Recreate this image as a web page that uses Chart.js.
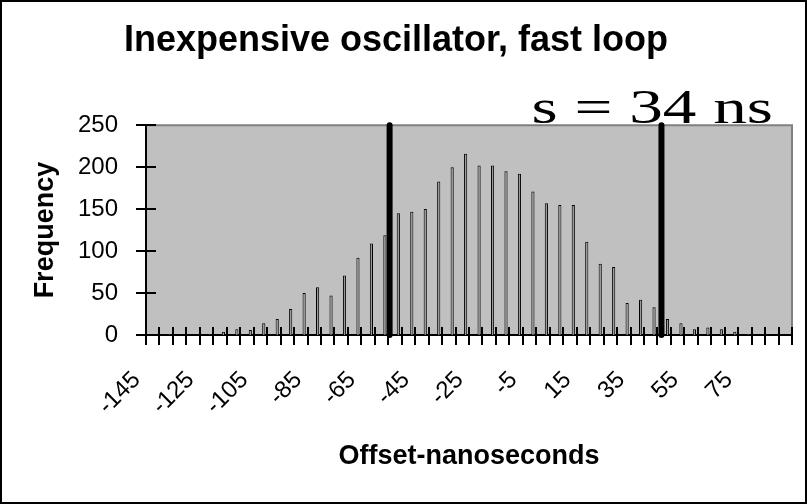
<!DOCTYPE html>
<html>
<head>
<meta charset="utf-8">
<script src="https://cdn.jsdelivr.net/npm/chart.js@4.4.1/dist/chart.umd.min.js"></script>
<style>
  html, body { margin: 0; padding: 0; background: #fff; }
  #wrap { width: 807px; height: 504px; }
</style>
</head>
<body>
<div id="wrap"><canvas id="histo" width="807" height="504"></canvas></div>
<script>
// Bins de 5 ns (limite de cada clase)
const offsets = [
  -145, -140, -135, -130, -125, -120, -115, -110, -105, -100, -95, -90,
  -85, -80, -75, -70, -65, -60, -55, -50, -45, -40, -35, -30,
  -25, -20, -15, -10, -5, 0, 5, 10, 15, 20, 25, 30,
  35, 40, 45, 50, 55, 60, 65, 70, 75, 80, 85, 90
];
const frequency = [
  0, 1, 0, 0, 1, 4, 7, 6, 14, 19, 31, 50,
  57, 47, 71, 92, 109, 119, 145, 147, 150, 183, 200, 216,
  202, 202, 195, 192, 171, 157, 155, 155, 111, 85, 81, 38,
  42, 33, 19, 14, 7, 9, 7, 4, 1, 0, 0, 0
];
const tickLabels = [-145, -125, -105, -85, -65, -45, -25, -5, 15, 35, 55, 75];
const yTicks = [0, 50, 100, 150, 200, 250];
// marcas verticales (ns) y texto de sigma
const sigmaMarks = [-57, 44];
const sigmaText = 's = 34 ns';

const SANS = "'Liberation Sans', Arial, sans-serif";
const SERIF = "'Liberation Serif', 'Times New Roman', serif";

// Fondo gris, borde del area, ticks cruzados y marco exterior
const framePlugin = {
  id: 'frame',
  beforeDraw(chart) {
    const { ctx, chartArea: a } = chart;
    ctx.save();
    ctx.fillStyle = '#ffffff';
    ctx.fillRect(0, 0, chart.width, chart.height);
    ctx.fillStyle = '#c0c0c0';
    ctx.fillRect(a.left, a.top, a.right - a.left, a.bottom - a.top);
    ctx.restore();
  },
  beforeDatasetsDraw(chart) {
    const { ctx, chartArea: a, scales } = chart;
    ctx.save();
    // borde superior y derecho en gris
    ctx.strokeStyle = '#808080';
    ctx.lineWidth = 2;
    ctx.beginPath();
    ctx.moveTo(a.left, a.top);
    ctx.lineTo(a.right, a.top);
    ctx.lineTo(a.right, a.bottom);
    ctx.stroke();

    // ticks que cruzan los ejes
    ctx.strokeStyle = '#000';
    ctx.lineWidth = 2;
    ctx.beginPath();
    const x = scales.x;
    const half = (x.getPixelForValue(1) - x.getPixelForValue(0)) / 2;
    for (let i = 0; i <= offsets.length; i++) {
      const px = Math.round(x.getPixelForValue(i) - half);
      ctx.moveTo(px, a.bottom - 8);
      ctx.lineTo(px, a.bottom + 10);
    }
    yTicks.forEach(v => {
      const py = Math.round(scales.y.getPixelForValue(v));
      ctx.moveTo(a.left - 10, py);
      ctx.lineTo(a.left + 10, py);
    });
    ctx.stroke();
    ctx.restore();
  },
  afterDraw(chart) {
    const { ctx, chartArea: a } = chart;
    ctx.save();
    ctx.fillStyle = '#000';
    ctx.font = '48px ' + SERIF;
    ctx.textAlign = 'right';
    ctx.textBaseline = 'alphabetic';
    // el texto original sale ensanchado
    ctx.translate(a.right - 19, a.top - 2);
    ctx.scale(1.4, 1);
    ctx.fillText(sigmaText, 0, 0);
    ctx.restore();

    ctx.save();
    ctx.strokeStyle = '#000';
    ctx.lineWidth = 2;
    ctx.strokeRect(1, 1, chart.width - 2, chart.height - 2);
    ctx.restore();
  }
};

const markLine = v => ({
  type: 'line',
  xAxisID: 'xns',
  data: [{ x: v, y: 0 }, { x: v, y: 250 }],
  borderColor: '#000',
  borderWidth: 6,
  borderCapStyle: 'round',
  pointRadius: 0,
  clip: false,
  order: 0
});

new Chart(document.getElementById('histo'), {
  type: 'bar',
  data: {
    labels: offsets.map(String),
    datasets: [
      ...sigmaMarks.map(markLine),
      {
        type: 'bar',
        data: frequency,
        backgroundColor: '#999999',
        borderColor: '#000',
        borderWidth: 1,
        borderSkipped: 'start',
        barPercentage: 0.47,
        categoryPercentage: 1,
        order: 1
      }
    ]
  },
  options: {
    responsive: false,
    animation: false,
    layout: { padding: { top: 0, right: 15, bottom: 0, left: 0 } },
    plugins: {
      legend: { display: false },
      tooltip: { enabled: false },
      title: {
        display: true,
        text: 'Inexpensive oscillator, fast loop',
        color: '#000',
        font: { family: SANS, size: 36, weight: 'bold' },
        padding: { top: 19, bottom: 63 }
      }
    },
    scales: {
      x: {
        type: 'category',
        offset: true,
        grid: { display: false, drawTicks: false },
        border: { display: true, color: '#000', width: 2 },
        ticks: {
          autoSkip: false,
          minRotation: 45,
          maxRotation: 45,
          padding: 31,
          labelOffset: -16,
          color: '#000',
          font: { family: SANS, size: 24 },
          callback: (v, i) => tickLabels.includes(offsets[i]) ? String(offsets[i]) : ''
        },
        title: {
          display: true,
          text: 'Offset-nanoseconds',
          color: '#000',
          font: { family: SANS, size: 27, weight: 'bold' },
          padding: { top: 0, bottom: 31 }
        },
        afterFit: s => {
          s.height = 169;
          s.paddingLeft = 0;
          s.paddingRight = 0;
        }
      },
      // eje auxiliar en ns para las marcas verticales, sin dibujo propio
      xns: {
        type: 'linear',
        position: 'top',
        offset: false,
        min: -147.5,
        max: 92.5,
        ticks: { display: false },
        grid: { display: false, drawTicks: false, offset: false },
        border: { display: false },
        afterFit: s => {
          s.height = 0;
          s.paddingLeft = 0;
          s.paddingRight = 0;
        }
      },
      y: {
        min: 0,
        max: 250,
        grid: { display: false, drawTicks: false },
        border: { display: true, color: '#000', width: 2 },
        ticks: {
          stepSize: 50,
          padding: 28,
          color: '#000',
          font: { family: SANS, size: 24 }
        },
        title: {
          display: true,
          text: 'Frequency',
          color: '#000',
          font: { family: SANS, size: 27, weight: 'bold' },
          padding: { top: 29, bottom: 0 }
        },
        afterFit: s => { s.width = 146; }
      }
    }
  },
  plugins: [framePlugin]
});
</script>
</body>
</html>
